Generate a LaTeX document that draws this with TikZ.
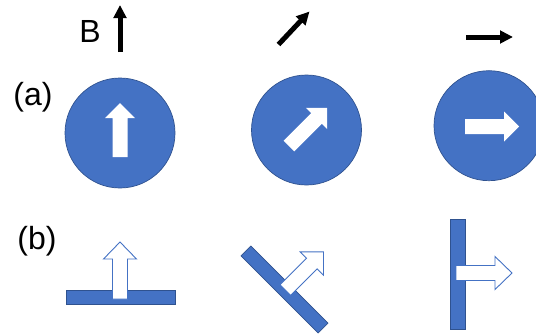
\documentclass[tikz,border=0pt]{standalone}
\usepackage{fontspec}
\setmainfont{Liberation Sans}
\usetikzlibrary{arrows.meta}
\definecolor{discblue}{HTML}{4472C4}
\definecolor{edgeblue}{HTML}{2F528F}

% block arrow along +x from (0,0): length, shaft width, head width, head length
\newcommand\blockarrowpath[4]{(0,{-#2/2}) -- ({#1-#4},{-#2/2}) -- ({#1-#4},{-#3/2}) -- (#1,0) -- ({#1-#4},{#3/2}) -- ({#1-#4},{#2/2}) -- (0,{#2/2}) -- cycle}

\tikzset{
  disc/.style={circle, fill=discblue, draw=edgeblue, line width=0.7pt, minimum size=110pt, inner sep=0pt},
  slab/.style={rectangle, fill=discblue, draw=edgeblue, line width=0.7pt, inner sep=0pt},
  whitearrow/.style={fill=white},
  hollowarrow/.style={fill=white, draw=discblue, line width=0.9pt, line join=miter},
  fieldarrow/.style={line width=5pt, -{Triangle[length=13pt,width=12.5pt]}},
  tag/.style={font=\fontsize{32}{38}\selectfont, inner sep=0pt}
}

\begin{document}
\begin{tikzpicture}[x=1pt, y=-1pt]
  \useasboundingbox (0,0) rectangle (536,335);
  \clip (0,0) rectangle (536,335);

  % labels
  \node[tag] (lblB) at (90,31.5) {B};
  \node[tag] (lbla) at (33,97) {(a)};
  \node[tag] (lblb) at (37,241.5) {(b)};

  % field direction arrows
  \coordinate (f1s) at (120,52);    \coordinate (f1e) at (120,5);
  \coordinate (f2s) at (278.5,44.5); \coordinate (f2e) at (309.5,11.5);
  \coordinate (f3s) at (466,37);    \coordinate (f3e) at (513,37);
  \draw[fieldarrow] (f1s) -- (f1e);
  \draw[fieldarrow] (f2s) -- (f2e);
  \draw[fieldarrow] (f3s) -- (f3e);

  % row (a): discs with white arrows
  \node[disc] (d1) at (120,133) {};
  \node[disc] (d2) at (306.5,130) {};
  \node[disc] (d3) at (489,125.7) {};

  \begin{scope}[shift={(120,157)}, rotate=90]
    \fill[whitearrow] \blockarrowpath{54}{15}{30}{15};
  \end{scope}
  \begin{scope}[shift={(289,146)}, rotate=45]
    \fill[whitearrow] \blockarrowpath{54}{15}{30}{15};
  \end{scope}
  \begin{scope}[shift={(465,126.5)}]
    \fill[whitearrow] \blockarrowpath{54}{15}{30}{15};
  \end{scope}

  % row (b): slabs with hollow arrows
  \node[slab, minimum width=109pt, minimum height=14pt] (s1) at (120.5,297) {};
  \node[slab, minimum width=109pt, minimum height=14pt, rotate=-45] (s2) at (284.5,289.5) {};
  \node[slab, minimum width=110pt, minimum height=15pt, rotate=90] (s3) at (458.2,274) {};

  \begin{scope}[shift={(120,299)}, rotate=90]
    \filldraw[hollowarrow] \blockarrowpath{57}{15}{33}{17};
  \end{scope}
  \begin{scope}[shift={(285.3,290)}, rotate=45]
    \filldraw[hollowarrow] \blockarrowpath{54}{15}{33}{16.5};
  \end{scope}
  \begin{scope}[shift={(456,273)}]
    \filldraw[hollowarrow] \blockarrowpath{56}{15}{33}{17};
  \end{scope}
\end{tikzpicture}
\end{document}
